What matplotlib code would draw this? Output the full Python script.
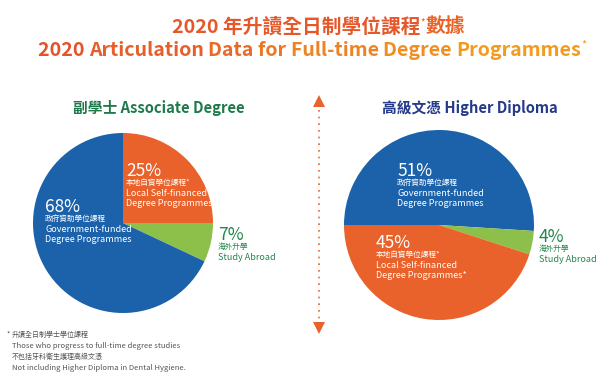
import matplotlib.pyplot as plt
import matplotlib.colors as mcolors
import numpy as np

plt.rcParams['font.family'] = ['Noto Sans CJK TC', 'DejaVu Sans']

# data
ad_labels = ['Local Self-financed', 'Study Abroad', 'Government-funded']
ad_values = [25, 7, 68]
hd_labels = ['Government-funded', 'Study Abroad', 'Local Self-financed']
hd_values = [51, 4, 45]

BLUE = '#1b62ab'
ORANGE = '#e9612b'
GREEN = '#8dc04a'
TXT_GREEN = '#23864b'
ad_colors = [ORANGE, GREEN, BLUE]
hd_colors = [BLUE, GREEN, ORANGE]

W, H = 610, 388
fig = plt.figure(figsize=(W / 100, H / 100), dpi=100)
fig.patch.set_facecolor('white')


def pie_axes(cx, cy, r, values, colors, start):
    ax = fig.add_axes([(cx - r) / W, (H - cy - r) / H, 2 * r / W, 2 * r / H])
    ax.pie(values, colors=colors, startangle=start, counterclock=False,
           radius=1, wedgeprops=dict(linewidth=0))
    ax.set_xlim(-1, 1)
    ax.set_ylim(-1, 1)
    ax.set_aspect('equal')
    ax.axis('off')
    return ax


ax1 = pie_axes(123, 223, 90, ad_values, ad_colors, 90)
ax2 = pie_axes(439, 225, 95, hd_values, hd_colors, 180)

# overlay in pixel coordinates for text
ov = fig.add_axes([0, 0, 1, 1])
ov.set_xlim(0, W)
ov.set_ylim(H, 0)
ov.axis('off')

# title lines with a red->orange gradient by word
c0 = np.array(mcolors.to_rgb('#e4522c'))
c1 = np.array(mcolors.to_rgb('#f29b1d'))


def gradient_line(words, x, y, size):
    n = len(words)
    prev = None
    for i, w in enumerate(words):
        col = c0 + (c1 - c0) * (i / max(n - 1, 1))
        txt = w if i == n - 1 else w + ' '
        if prev is None:
            prev = ov.text(x, y, txt, color=col, fontsize=size, fontweight='bold',
                           ha='left', va='center')
        else:
            prev = ov.annotate(txt, xy=(1, 0.5), xycoords=prev, color=col,
                               fontsize=size, fontweight='bold', ha='left', va='center')
    return prev


t = ov.text(172, 27, '2020 年升讀全日制學位課程', color='#e6582b', fontsize=14.2,
            fontweight='bold', ha='left', va='center')
ov.annotate('*', xy=(1, 0.75), xycoords=t, color='#e8652a', fontsize=7,
            ha='left', va='center')
ov.annotate('數據', xy=(1, 0.5), xycoords=t, xytext=(4, 0), textcoords='offset points',
            color='#e8652a', fontsize=14.2, fontweight='bold', ha='left', va='center')

last = gradient_line(['2020', 'Articulation', 'Data', 'for', 'Full-time', 'Degree',
                      'Programmes'], 38, 50, 14.1)
ov.annotate('*', xy=(1, 0.8), xycoords=last, color='#f29b1d', fontsize=8,
            ha='left', va='center')

# subtitles
ov.text(73, 108, '副學士 Associate Degree', color='#1f7a4b', fontsize=10.6,
        fontweight='bold', ha='left', va='center')
ov.text(382, 108, '高級文憑 Higher Diploma', color='#263a8a', fontsize=10.6,
        fontweight='bold', ha='left', va='center')


def label(x, y, pct, zh, en1, en2, color, star=False):
    ov.text(x, y, f'{pct}%', color=color, fontsize=12.5, fontweight='medium',
            ha='left', va='center')
    s = '*' if star else ''
    ov.text(x, y + 12, zh + s, color=color, fontsize=5.5, ha='left', va='center')
    ov.text(x, y + 22, en1, color=color, fontsize=6.5, ha='left', va='center')
    if en2:
        ov.text(x, y + 33, en2 + s, color=color, fontsize=6.5, ha='left', va='center')


label(126, 171, ad_values[0], '本地自資學位課程', 'Local Self-financed', 'Degree Programmes',
      'white', star=True)
label(45, 207, ad_values[2], '政府資助學位課程', 'Government-funded', 'Degree Programmes',
      'white')
ov.text(218, 235, f'{ad_values[1]}%', color=TXT_GREEN, fontsize=12.5, fontweight='medium',
        ha='left', va='center')
ov.text(218, 247, '海外升學', color=TXT_GREEN, fontsize=5.5, ha='left', va='center')
ov.text(218, 257, 'Study Abroad', color=TXT_GREEN, fontsize=6.5, ha='left', va='center')

label(397, 171, hd_values[0], '政府資助學位課程', 'Government-funded', 'Degree Programmes',
      'white')
label(376, 243, hd_values[2], '本地自資學位課程', 'Local Self-financed', 'Degree Programmes',
      'white', star=True)
ov.text(539, 237, f'{hd_values[1]}%', color=TXT_GREEN, fontsize=12.5, fontweight='medium',
        ha='left', va='center')
ov.text(539, 249, '海外升學', color=TXT_GREEN, fontsize=5.5, ha='left', va='center')
ov.text(539, 259, 'Study Abroad', color=TXT_GREEN, fontsize=6.5, ha='left', va='center')

# dotted divider with arrow heads
ov.plot([319, 319], [110, 320], color='#e9612b', linestyle=(0, (1, 3)), linewidth=1.2)
ov.plot([319], [101], marker='^', markersize=9, color='#e9612b', markeredgewidth=0)
ov.plot([319], [328], marker='v', markersize=9, color='#e9612b', markeredgewidth=0)

# footnote
fc = '#555555'
ov.text(7, 335, '*', color=fc, fontsize=5, ha='left', va='center')
ov.text(12, 335, '升讀全日制學士學位課程', color=fc, fontsize=5, ha='left', va='center')
ov.text(12, 346, 'Those who progress to full-time degree studies', color=fc, fontsize=5.5,
        ha='left', va='center')
ov.text(12, 357, '不包括牙科衛生護理高級文憑', color=fc, fontsize=5, ha='left', va='center')
ov.text(12, 368, 'Not including Higher Diploma in Dental Hygiene.', color=fc, fontsize=5.5,
        ha='left', va='center')

fig.savefig('out.png', dpi=100)
